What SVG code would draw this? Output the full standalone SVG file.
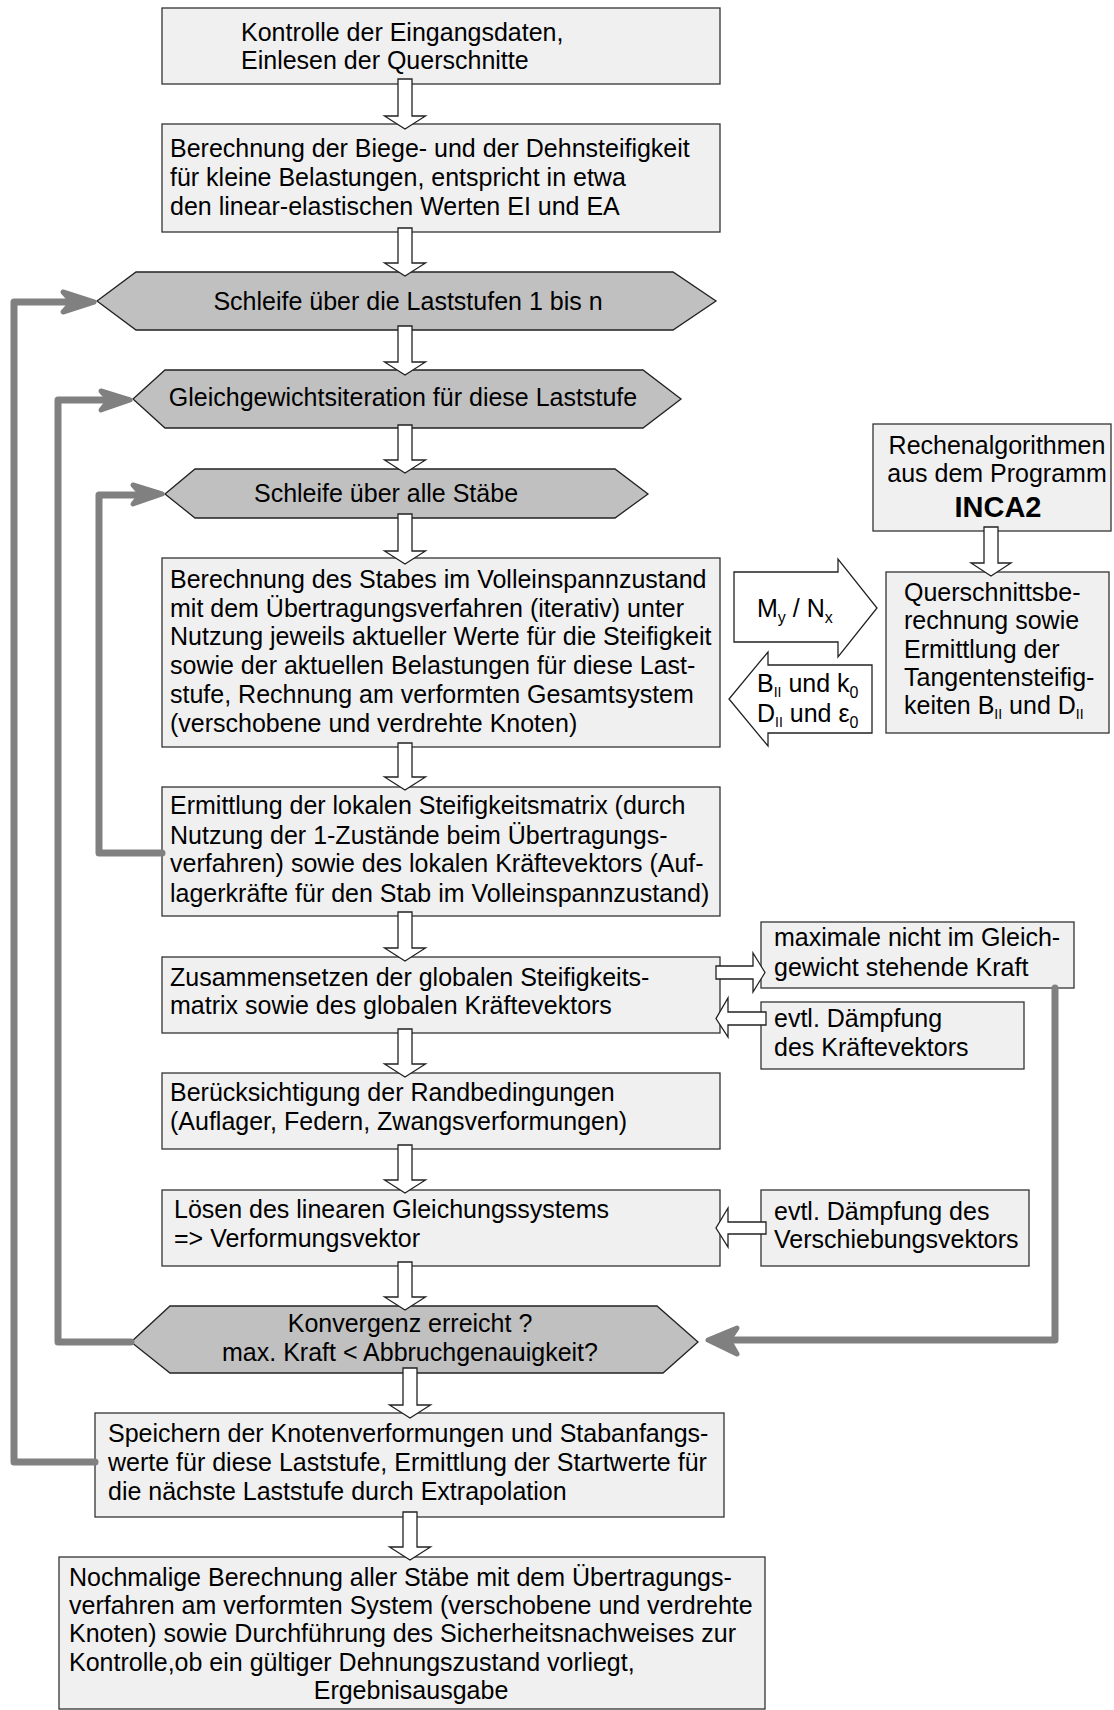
<svg xmlns="http://www.w3.org/2000/svg" width="1114" height="1710" viewBox="0 0 1114 1710">
<style>
text{font-family:"Liberation Sans",Arial,sans-serif;font-size:25px;fill:#000}
.box{fill:#f0f0f0;stroke:#333;stroke-width:1.3}
.hex{fill:#c0c0c0;stroke:#222;stroke-width:1.3}
.ha{fill:#fff;stroke:#222;stroke-width:1.3}
.loop{fill:none;stroke:#808080;stroke-width:7;stroke-linejoin:round;stroke-linecap:round}
.head{fill:#808080;stroke:#808080;stroke-width:5;stroke-linejoin:round}
.sub{font-size:14px}
.mid{text-anchor:middle}
</style>
<rect width="1114" height="1710" fill="#fff"/>
<g id="n1"><rect class="box" x="162" y="8" width="558" height="76"/>
<text x="241" y="41">Kontrolle der Eingangsdaten,</text><text x="241" y="69">Einlesen der Querschnitte</text></g>
<g id="n2"><rect class="box" x="162" y="124" width="558" height="108"/>
<text x="170" y="157">Berechnung der Biege- und der Dehnsteifigkeit</text>
<text x="170" y="186">für kleine Belastungen, entspricht in etwa</text>
<text x="170" y="215">den linear-elastischen Werten EI und EA</text></g>
<g id="n3"><polygon class="hex" points="97,301 136,272 673,272 716,301 673,330 136,330"/>
<text class="mid" x="408" y="310">Schleife über die Laststufen 1 bis n</text></g>
<g id="n4"><polygon class="hex" points="133,399 165,370 643,370 681,399 643,428 165,428"/>
<text class="mid" x="403" y="406">Gleichgewichtsiteration für diese Laststufe</text></g>
<g id="n5"><polygon class="hex" points="165,494 195,469 615,469 648,494 615,518 195,518"/>
<text class="mid" x="386" y="502">Schleife über alle Stäbe</text></g>
<g id="n6"><rect class="box" x="162" y="558" width="558" height="189"/>
<text x="170" y="588">Berechnung des Stabes im Volleinspannzustand</text>
<text x="170" y="617">mit dem Übertragungsverfahren (iterativ) unter</text>
<text x="170" y="645">Nutzung jeweils aktueller Werte für die Steifigkeit</text>
<text x="170" y="674">sowie der aktuellen Belastungen für diese Last-</text>
<text x="170" y="703">stufe, Rechnung am verformten Gesamtsystem</text>
<text x="170" y="732">(verschobene und verdrehte Knoten)</text></g>
<g id="n7"><rect class="box" x="162" y="787" width="558" height="129"/>
<text x="170" y="814">Ermittlung der lokalen Steifigkeitsmatrix (durch</text>
<text x="170" y="844">Nutzung der 1-Zustände beim Übertragungs-</text>
<text x="170" y="872">verfahren) sowie des lokalen Kräftevektors (Auf-</text>
<text x="170" y="902">lagerkräfte für den Stab im Volleinspannzustand)</text></g>
<g id="n8"><rect class="box" x="162" y="957" width="558" height="76"/>
<text x="170" y="986">Zusammensetzen der globalen Steifigkeits-</text>
<text x="170" y="1014">matrix sowie des globalen Kräftevektors</text></g>
<g id="n9"><rect class="box" x="162" y="1073" width="558" height="76"/>
<text x="170" y="1101">Berücksichtigung der Randbedingungen</text>
<text x="170" y="1130">(Auflager, Federn, Zwangsverformungen)</text></g>
<g id="n10"><rect class="box" x="162" y="1190" width="558" height="76"/>
<text x="174" y="1218">Lösen des linearen Gleichungssystems</text>
<text x="174" y="1247">=&gt; Verformungsvektor</text></g>
<g id="n11"><polygon class="hex" points="131,1342 170,1306 657,1306 698,1342 663,1373 170,1373"/>
<text class="mid" x="410" y="1332">Konvergenz erreicht ?</text>
<text class="mid" x="410" y="1361">max. Kraft &lt; Abbruchgenauigkeit?</text></g>
<g id="n12"><rect class="box" x="95" y="1413" width="629" height="104"/>
<text x="108" y="1442">Speichern der Knotenverformungen und Stabanfangs-</text>
<text x="108" y="1471">werte für diese Laststufe, Ermittlung der Startwerte für</text>
<text x="108" y="1500">die nächste Laststufe durch Extrapolation</text></g>
<g id="n13"><rect class="box" x="59" y="1557" width="706" height="152"/>
<text x="69" y="1586">Nochmalige Berechnung aller Stäbe mit dem Übertragungs-</text>
<text x="69" y="1614">verfahren am verformten System (verschobene und verdrehte</text>
<text x="69" y="1642">Knoten) sowie Durchführung des Sicherheitsnachweises zur</text>
<text x="69" y="1671">Kontrolle,ob ein gültiger Dehnungszustand vorliegt,</text>
<text class="mid" x="411" y="1699">Ergebnisausgabe</text></g>
<g id="n14"><rect class="box" x="873" y="424" width="238" height="107"/>
<text class="mid" x="997" y="454">Rechenalgorithmen</text>
<text class="mid" x="997" y="482">aus dem Programm</text>
<text class="mid" x="998" y="517" style="font-weight:bold;font-size:29px">INCA2</text></g>
<g id="n15"><rect class="box" x="886" y="572" width="223" height="161"/>
<text x="904" y="601">Querschnittsbe-</text>
<text x="904" y="629">rechnung sowie</text>
<text x="904" y="658">Ermittlung der</text>
<text x="904" y="686">Tangentensteifig-</text>
<text x="904" y="714">keiten B<tspan class="sub" dy="5">II</tspan><tspan dy="-5"> und D</tspan><tspan class="sub" dy="5">II</tspan></text></g>
<g id="n16"><rect class="box" x="761" y="922" width="313" height="66"/>
<text x="774" y="946">maximale nicht im Gleich-</text>
<text x="774" y="976">gewicht stehende Kraft</text></g>
<g id="n17"><rect class="box" x="761" y="1002" width="263" height="67"/>
<text x="774" y="1027">evtl. Dämpfung</text>
<text x="774" y="1056">des Kräftevektors</text></g>
<g id="n18"><rect class="box" x="761" y="1190" width="268" height="76"/>
<text x="774" y="1220">evtl. Dämpfung des</text>
<text x="774" y="1248">Verschiebungsvektors</text></g>
<g id="n19"><polygon class="ha" points="734,572 838,572 838,559 877,608 838,657 838,642 734,642"/>
<text x="757" y="617">M<tspan class="sub" dy="6" style="font-size:16px">y</tspan><tspan dy="-6"> / N</tspan><tspan class="sub" dy="6" style="font-size:16px">x</tspan></text></g>
<g id="n20"><polygon class="ha" points="872,665 768,665 768,652 729,699 768,746 768,733 872,733"/>
<text x="757" y="692">B<tspan class="sub" dy="5">II</tspan><tspan dy="-5"> und k</tspan><tspan class="sub" dy="6" style="font-size:16px">0</tspan></text>
<text x="757" y="722">D<tspan class="sub" dy="5">II</tspan><tspan dy="-5"> und ε</tspan><tspan class="sub" dy="6" style="font-size:16px">0</tspan></text></g>
<g id="connectors">
<path class="ha" d="M398,79V116H384.5L405,129L425.5,116H412V79Z"/>
<path class="ha" d="M398,228V263H384.5L405,276L425.5,263H412V228Z"/>
<path class="ha" d="M398,326V362H384.5L405,375L425.5,362H412V326Z"/>
<path class="ha" d="M398,425V460H384.5L405,473L425.5,460H412V425Z"/>
<path class="ha" d="M398,514V551H384.5L405,564L425.5,551H412V514Z"/>
<path class="ha" d="M398,743V777H384.5L405,790L425.5,777H412V743Z"/>
<path class="ha" d="M398,912V948H384.5L405,961L425.5,948H412V912Z"/>
<path class="ha" d="M398,1029V1064H384.5L405,1077L425.5,1064H412V1029Z"/>
<path class="ha" d="M398,1145V1180H384.5L405,1193L425.5,1180H412V1145Z"/>
<path class="ha" d="M398,1262V1297H384.5L405,1310L425.5,1297H412V1262Z"/>
<path class="ha" d="M403,1368V1405H389.5L410,1418L430.5,1405H417V1368Z"/>
<path class="ha" d="M403,1512V1547H389.5L410,1560L430.5,1547H417V1512Z"/>
<path class="ha" d="M984,527V563H971L991,576L1011,563H998V527Z"/>
<path class="ha" d="M716,966H753V953L765,972.5L753,992V979H716Z"/>
<path class="ha" d="M766,1012H728V998L716,1018.5L728,1037V1025H766Z"/>
<path class="ha" d="M766,1222H728V1208L716,1228L728,1247V1234H766Z"/>
<path class="loop" d="M95,1462H14V302H75"/>
<polygon class="head" points="94,302 63,292 72,302 63,312"/>
<path class="loop" d="M131,1342H58V400H110"/>
<polygon class="head" points="130,400 101,391 109,400 101,410"/>
<path class="loop" d="M162,853H99V495H142"/>
<polygon class="head" points="162,494 133,485 141,494 133,504"/>
<path class="loop" d="M1055,988V1340H725"/>
<polygon class="head" points="708,1340 737,1328 729,1340 737,1354"/>
</g>
</svg>
